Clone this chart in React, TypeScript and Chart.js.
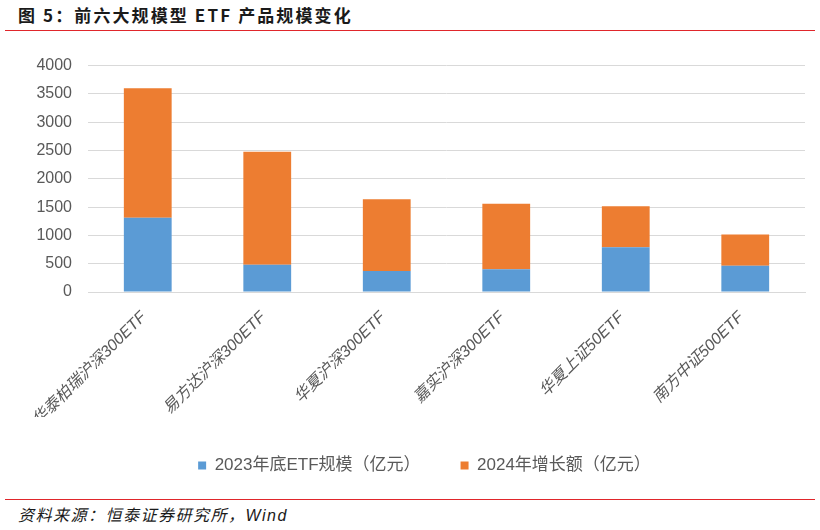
import React, { useEffect, useRef } from "react";
import { Chart, registerables } from "chart.js";
Chart.register(...registerables);

const categories = [
  "华泰柏瑞沪深300ETF",
  "易方达沪深300ETF",
  "华夏沪深300ETF",
  "嘉实沪深300ETF",
  "华夏上证50ETF",
  "南方中证500ETF",
];
const scale2023 = [1310, 480, 370, 400, 790, 465];
const growth2024 = [2290, 2000, 1270, 1160, 725, 550];
const seriesNames = ["2023年底ETF规模（亿元）", "2024年增长额（亿元）"];
const yMin = 0;
const yMax = 4000;
const yStep = 500;

const titleText = "图 5：前六大规模型 ETF 产品规模变化";
const sourceText = "资料来源：恒泰证券研究所，Wind";

const legendShift = {
  id: "legendShift",
  afterLayout(chart: any) {
    const l = chart.legend;
    if (l) {
      l.left += 22;
      l.right += 22;
    }
  },
};

export default function App() {
  const ref = useRef<HTMLCanvasElement | null>(null);

  useEffect(() => {
    if (!ref.current) return;
    const chart = new Chart(ref.current, {
      type: "bar",
      data: {
        labels: categories,
        datasets: [
          {
            label: seriesNames[0],
            data: scale2023,
            backgroundColor: "#5B9BD5",
            barPercentage: 0.4,
            categoryPercentage: 1,
          },
          {
            label: seriesNames[1],
            data: growth2024,
            backgroundColor: "#ED7D31",
            barPercentage: 0.4,
            categoryPercentage: 1,
          },
        ],
      },
      plugins: [legendShift],
      options: {
        animation: false,
        responsive: false,
        maintainAspectRatio: false,
        layout: { padding: { top: 20, right: 15, left: 0, bottom: 8 } },
        plugins: {
          tooltip: { enabled: false },
          legend: {
            position: "bottom",
            labels: {
              boxWidth: 8,
              boxHeight: 8,
              padding: 40,
              color: "#595959",
              font: { family: "'Liberation Sans', 'Noto Sans CJK SC'", size: 17 },
            },
          },
        },
        scales: {
          x: {
            stacked: true,
            grid: { display: false, drawTicks: false },
            border: { display: true, color: "#D9D9D9", width: 1 },
            ticks: {
              maxRotation: 45,
              minRotation: 45,
              padding: 16,
              labelOffset: -4,
              color: "#595959",
              font: { family: "'Liberation Sans', 'Noto Sans CJK SC'", size: 16, style: "italic" },
            },
            afterFit: (axis: any) => {
              axis.height = 125;
            },
          },
          y: {
            stacked: true,
            min: yMin,
            max: yMax,
            ticks: {
              stepSize: yStep,
              padding: 16,
              color: "#595959",
              font: { family: "'Liberation Sans'", size: 16 },
              callback: (v: any) => String(v),
            },
            grid: { color: "#D9D9D9", lineWidth: 1, drawTicks: false },
            border: { display: false },
            afterFit: (axis: any) => {
              axis.width = 88;
            },
          },
        },
      },
    });
    return () => chart.destroy();
  }, []);

  return (
    <div
      style={{
        position: "absolute",
        left: 0,
        top: 0,
        width: 820,
        height: 530,
        background: "#fff",
        overflow: "hidden",
      }}
    >
      <div
        style={{
          position: "absolute",
          left: 18,
          top: 4,
          fontFamily: "'Noto Sans CJK SC', 'Liberation Sans'",
          fontWeight: 700,
          fontSize: 17,
          letterSpacing: 2.1,
          color: "#1a1a1a",
          whiteSpace: "nowrap",
          lineHeight: "22px",
        }}
      >
        {titleText}
      </div>
      <div
        style={{
          position: "absolute",
          left: 5,
          top: 30,
          width: 810,
          height: 0,
          borderTop: "1.5px solid #E0262B",
        }}
      />
      <canvas
        ref={ref}
        width={820}
        height={452}
        style={{ position: "absolute", left: 0, top: 40, width: 820, height: 452 }}
      />
      <div
        style={{
          position: "absolute",
          left: 5,
          top: 499,
          width: 810,
          height: 0,
          borderTop: "1.5px solid #E0262B",
        }}
      />
      <div
        style={{
          position: "absolute",
          left: 18,
          top: 505,
          fontFamily: "'Liberation Sans', 'Noto Sans CJK SC'",
          fontStyle: "italic",
          fontSize: 16,
          letterSpacing: 1.5,
          color: "#1a1a1a",
          whiteSpace: "nowrap",
          lineHeight: "22px",
        }}
      >
        {sourceText}
      </div>
    </div>
  );
}
